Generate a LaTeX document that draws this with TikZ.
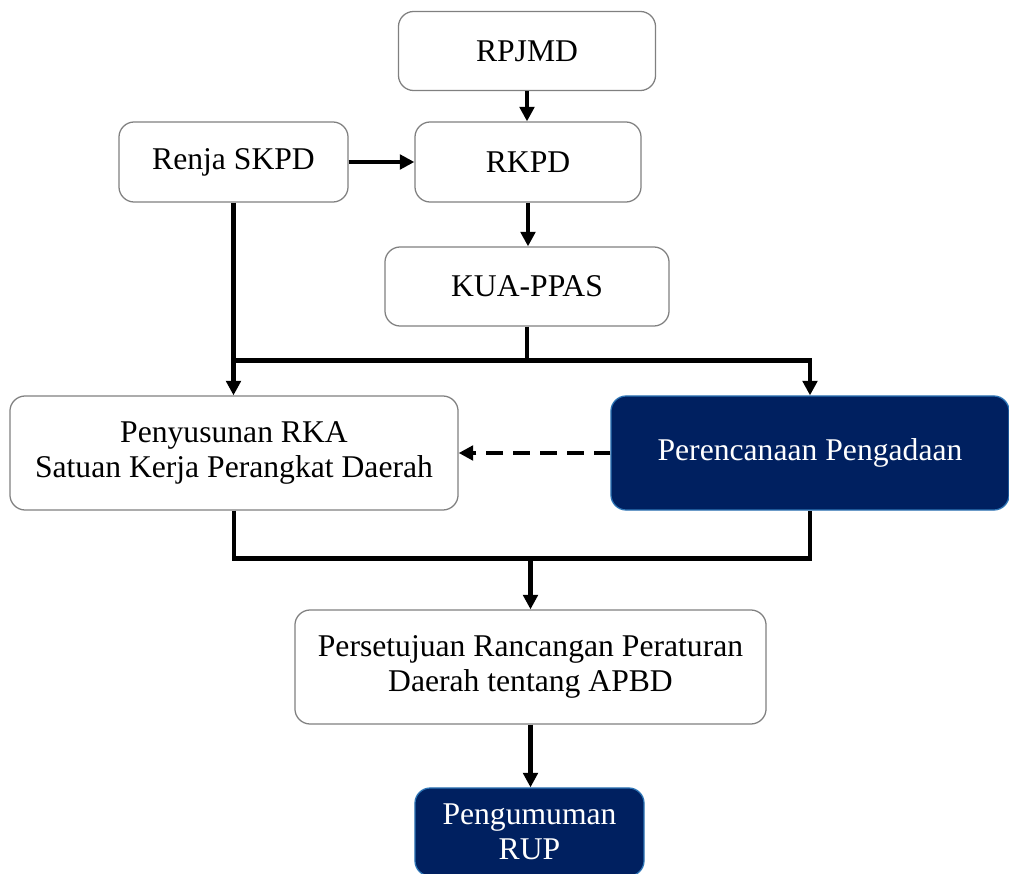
\documentclass[tikz,border=0pt]{standalone}
\usepackage{fontspec}
\setmainfont{Liberation Serif}
\usetikzlibrary{positioning, arrows.meta, calc}
\definecolor{navy}{RGB}{0,32,96}
\definecolor{navyedge}{RGB}{46,117,182}
\definecolor{boxgray}{RGB}{128,128,128}
\tikzset{
    stage/.style={draw=boxgray, line width=0.9pt, rounded corners=0.38cm, align=center,
      font=\fontsize{22.5}{25}\selectfont, inner sep=0pt},
    keystage/.style={stage, draw=navyedge, fill=navy, text=white},
    plain/.style={line width=3.3pt},
    flow/.style={plain, -{Triangle[length=0.36cm, width=0.36cm]}},
    dashflow/.style={flow, dash pattern=on 0.42cm off 0.25cm},
}

\begin{document}
\begin{tikzpicture}[x=0.025cm, y=-0.025cm]
    \useasboundingbox (0,0) rectangle (1009,874);
    \clip (0,0) rectangle (1009,874);

    % planning documents
    \node[stage, minimum width=6.425cm, minimum height=1.975cm] (rpjmd) at (527,51) {RPJMD};
    \node[stage, minimum width=5.725cm, minimum height=2cm] (renja) at (233.5,162) {Renja SKPD};
    \node[stage, minimum width=5.65cm, minimum height=2cm] (rkpd) at (528,162) {RKPD};
    \node[stage, minimum width=7.1cm, minimum height=1.975cm] (kua) at (527,286.5) {KUA-PPAS};

    % budgeting and procurement
    \node[stage, minimum width=11.2cm, minimum height=2.85cm] (rka) at (234,453)
      {Penyusunan RKA\\Satuan Kerja Perangkat Daerah};
    \node[keystage, minimum width=9.95cm, minimum height=2.85cm] (pengadaan) at (810,453)
      {Perencanaan Pengadaan};
    \node[stage, minimum width=11.775cm, minimum height=2.85cm] (apbd) at (530.5,667)
      {Persetujuan Rancangan Peraturan\\Daerah tentang APBD};
    \node[keystage, minimum width=5.725cm, minimum height=2.2cm] (rup) at (529.5,832)
      {Pengumuman\\RUP};

    \coordinate (split) at ($(kua.south)+(0,34)$);
    \coordinate (merge) at ($(rka.south)+(0,48)$);

    \draw[flow] (rpjmd.south) -- (rpjmd.south |- rkpd.north);
    \draw[flow] (renja) -- (rkpd);
    \draw[flow] (rkpd.south) -- (rkpd.south |- kua.north);
    \draw[plain] (kua.south) -- (split);
    \draw[plain] (split) -- (split -| rka.north);
    \draw[flow] (renja.south) -- (renja.south |- rka.north);
    \draw[flow] (split) -| (pengadaan.north);
    \draw[dashflow] (pengadaan.west) -- (rka.east);
    \draw[plain] (rka.south) |- (pengadaan.south |- merge) -- (pengadaan.south);
    \draw[flow] (apbd.north |- merge) -- (apbd.north);
    \draw[flow] (apbd.south) -- (apbd.south |- rup.north);
\end{tikzpicture}
\end{document}
